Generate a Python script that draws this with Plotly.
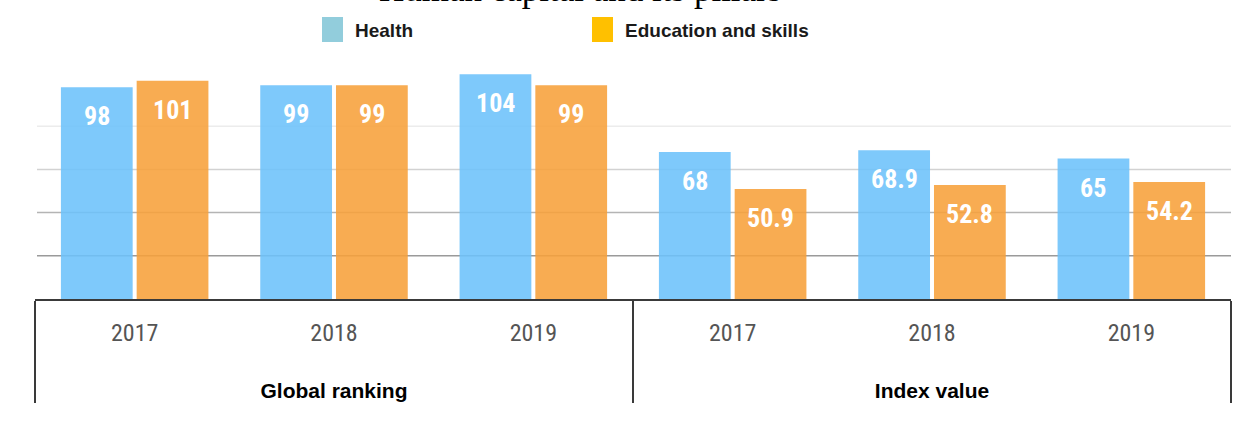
import plotly.graph_objects as go

# ---- data ----
groups = ["Global ranking", "Global ranking", "Global ranking",
          "Index value", "Index value", "Index value"]
years = ["2017", "2018", "2019", "2017", "2018", "2019"]
health = [98, 99, 104, 68, 68.9, 65]
education = [101, 99, 99, 50.9, 52.8, 54.2]
grid_vals = [20, 40, 60, 80]
grid_colors = ["#9a9a9a", "#b4b4b4", "#d2d2d2", "#ececec"]
series_names = ["Health", "Education and skills"]
legend_colors = ["#92CDDC", "#FFC000"]
title_text = "Human capital and its pillars"

# ---- layout geometry ----
W, H = 1243, 423
ML, MR, MT, MB = 35, 12, 60, 124
PW, PH = W - ML - MR, H - MT - MB
Y_MAX = PH / 2.16

def px_x(p):
    return (p - ML) / PW

def px_y(p):
    return (H - MB - p) / PH

BAR_W = 0.36
OFF_H, OFF_E = -0.37, 0.01

def group_label(t):
    return ("<br><span style='font-family:Liberation Sans, Arial, sans-serif;"
            "font-size:21px;color:#000000'><b>%s</b></span>" % t)

def year_label(t):
    return "<span style='font-size:24px'>%s</span>" % t

xcats = [[group_label(g) for g in groups], [year_label(y) for y in years]]

fig = go.Figure()
fig.add_trace(go.Bar(
    x=xcats, y=health, name=series_names[0],
    marker=dict(color="rgba(108,194,250,0.88)", line=dict(width=0)),
    width=BAR_W, offset=OFF_H, showlegend=False,
))
fig.add_trace(go.Bar(
    x=xcats, y=education, name=series_names[1],
    marker=dict(color="rgba(247,160,58,0.88)", line=dict(width=0)),
    width=BAR_W, offset=OFF_E, showlegend=False,
))

annotations = []
label_font = dict(family="Liberation Sans Narrow, Roboto Condensed, Arial Narrow, sans-serif",
                  size=26, color="white")
for i, (h, e) in enumerate(zip(health, education)):
    annotations.append(dict(x=i + OFF_H + BAR_W / 2, y=h, xref="x2", yref="y",
                            text="<b>%g</b>" % h, showarrow=False,
                            yanchor="middle", yshift=-29, font=label_font))
    annotations.append(dict(x=i + OFF_E + BAR_W / 2, y=e, xref="x2", yref="y",
                            text="<b>%g</b>" % e, showarrow=False,
                            yanchor="middle", yshift=-29, font=label_font))

# legend (drawn as shapes + text)
shapes = []
leg_sq_x = [322, 592]
leg_txt_x = [353, 623]
for name, col, sx, tx in zip(series_names, legend_colors, leg_sq_x, leg_txt_x):
    shapes.append(dict(type="rect", xref="paper", yref="paper",
                       x0=px_x(sx), x1=px_x(sx + 21), y0=px_y(42), y1=px_y(17),
                       fillcolor=col, line=dict(width=0)))
    annotations.append(dict(x=px_x(tx), y=px_y(30), xref="paper", yref="paper",
                            xanchor="left", yanchor="middle", showarrow=False,
                            text="<b>%s</b>" % name,
                            font=dict(family="Liberation Sans, Arial, sans-serif",
                                      size=19, color="#1a1a1a")))

# gridlines
for gv, gc in zip(grid_vals, grid_colors):
    shapes.append(dict(type="line", xref="paper", yref="y", x0=px_x(37), x1=1.0,
                       y0=gv, y1=gv, line=dict(color=gc, width=1.5), layer="below"))

# cropped title at the very top (as in the reference, only its lower edge shows)
annotations.append(dict(x=px_x(580), y=px_y(11), xref="paper", yref="paper",
                        xanchor="center", yanchor="bottom", showarrow=False,
                        text=title_text,
                        font=dict(family="Liberation Serif, Times New Roman, serif",
                                  size=35, color="#000000")))

fig.update_layout(
    width=W, height=H,
    margin=dict(l=ML, r=MR, t=MT, b=MB),
    paper_bgcolor="white", plot_bgcolor="white",
    barmode="group",
    showlegend=False,
    xaxis=dict(
        type="multicategory",
        showline=True, linecolor="#3a3a3a", linewidth=1.5,
        showdividers=True, dividercolor="#3a3a3a", dividerwidth=1.5,
        ticks="", showgrid=False, ticklabelstandoff=8,
        tickfont=dict(family="Liberation Sans Narrow, Roboto Condensed, Arial Narrow, sans-serif",
                      size=27, color="#555555"),
    ),
    xaxis2=dict(overlaying="x", range=[-0.5, 5.5], visible=False, showgrid=False),
    yaxis=dict(range=[0, Y_MAX], showgrid=False, zeroline=False,
               showticklabels=False, ticks=""),
    shapes=shapes,
    annotations=annotations,
)

fig.write_html("out.html")
